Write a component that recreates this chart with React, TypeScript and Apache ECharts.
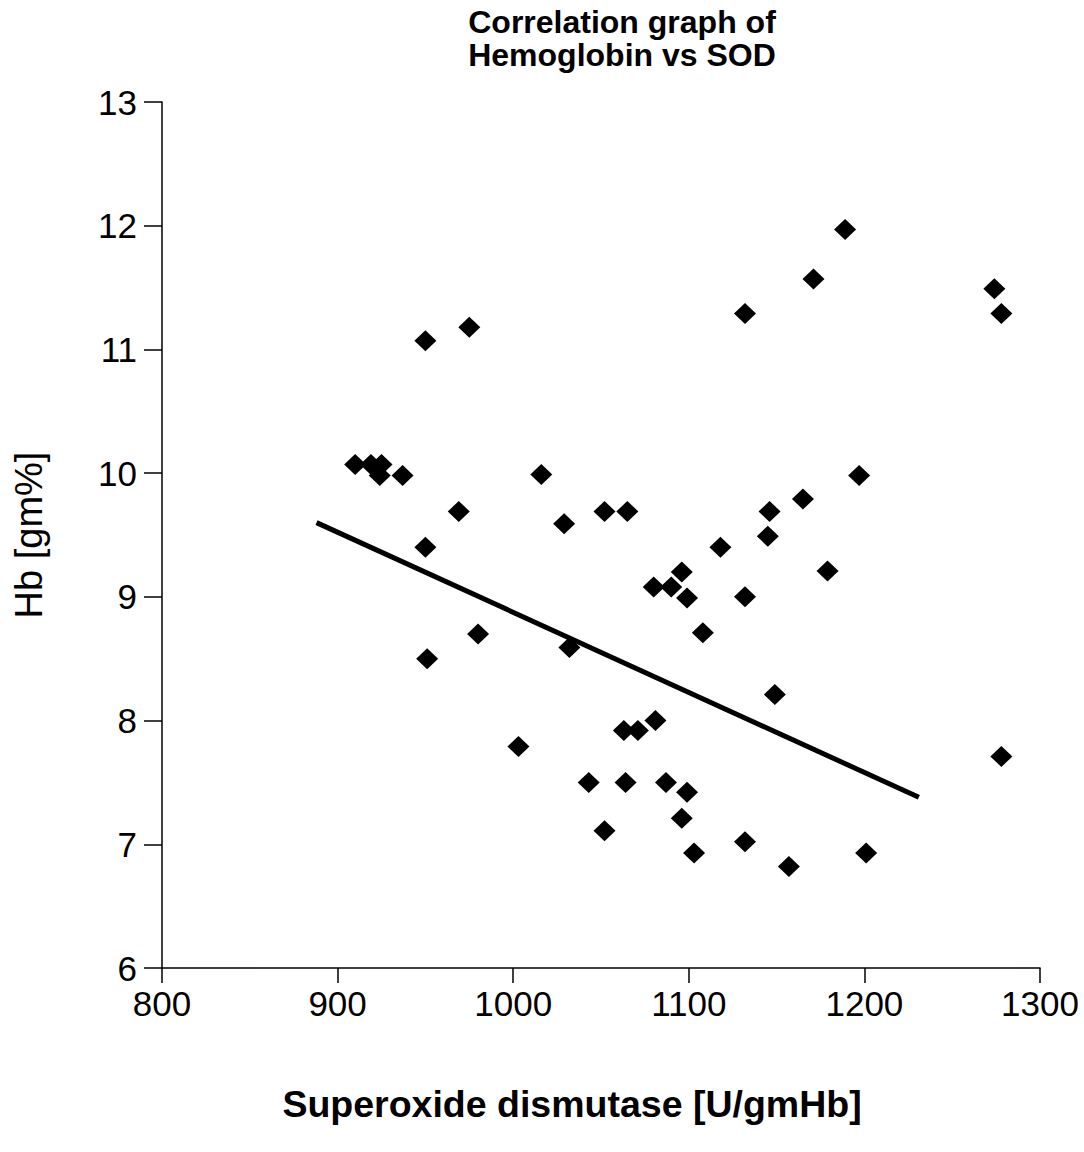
import React, { useEffect, useRef } from "react";
import * as echarts from "echarts";

const sodValues = [
  910, 919, 925, 924, 937, 950, 975, 969, 950, 951, 980, 1003, 1016, 1029, 1032,
  1043, 1052, 1052, 1065, 1063, 1071, 1081, 1064, 1080, 1090, 1096, 1099, 1087,
  1099, 1096, 1103, 1108, 1118, 1132, 1132, 1132, 1145, 1146, 1149, 1157, 1165,
  1171, 1179, 1189, 1197, 1201, 1274, 1278, 1278,
];
const hbValues = [
  10.07, 10.07, 10.07, 9.98, 9.98, 11.07, 11.18, 9.69, 9.4, 8.5, 8.7, 7.79, 9.99,
  9.59, 8.59, 7.5, 7.11, 9.69, 9.69, 7.92, 7.92, 8.0, 7.5, 9.08, 9.08, 9.2, 8.99,
  7.5, 7.42, 7.21, 6.93, 8.71, 9.4, 11.29, 9.0, 7.02, 9.49, 9.69, 8.21, 6.82, 9.79,
  11.57, 9.21, 11.97, 9.98, 6.93, 11.49, 11.29, 7.71,
];
const trendX = [888, 1231];
const trendY = [9.6, 7.38];
const xTicks = [800, 900, 1000, 1100, 1200, 1300];
const yTicks = [6, 7, 8, 9, 10, 11, 12, 13];

const titleText = "Correlation graph of\nHemoglobin vs SOD";
const xName = "Superoxide dismutase [U/gmHb]";
const yName = "Hb [gm%]";

const FONT = "Liberation Sans, Arial, sans-serif";

export default function App() {
  const ref = useRef<HTMLDivElement>(null);
  useEffect(() => {
    if (!ref.current) return;
    const chart = echarts.init(ref.current, null, { renderer: "svg" });
    const points = sodValues.map((x, i) => [x, hbValues[i]]);
    const trend = trendX.map((x, i) => [x, trendY[i]]);
    chart.setOption({
      animation: false,
      backgroundColor: "#ffffff",
      grid: { left: 162, right: 44, top: 102, bottom: 184 },
      graphic: [
        {
          type: "text",
          x: 622,
          y: 5,
          style: {
            text: titleText,
            textAlign: "center",
            textVerticalAlign: "top",
            fontFamily: FONT,
            fontWeight: "bold",
            fontSize: 32,
            lineHeight: 33,
            fill: "#000",
          },
        },
        {
          type: "text",
          x: 572,
          y: 1104,
          style: {
            text: xName,
            textAlign: "center",
            textVerticalAlign: "middle",
            fontFamily: FONT,
            fontWeight: "bold",
            fontSize: 37.5,
            fill: "#000",
          },
        },
      ],
      xAxis: {
        type: "value",
        min: xTicks[0],
        max: xTicks[xTicks.length - 1],
        interval: 100,
        splitLine: { show: false },
        axisLine: { show: true, onZero: false, lineStyle: { color: "#000", width: 1.5 } },
        axisTick: { show: true, length: 15, lineStyle: { color: "#000", width: 1.5 } },
        axisLabel: {
          color: "#000",
          fontFamily: FONT,
          fontSize: 35,
          margin: 18,
          formatter: (v: number) => String(v),
        },
      },
      yAxis: {
        type: "value",
        min: yTicks[0],
        max: yTicks[yTicks.length - 1],
        interval: 1,
        name: yName,
        nameLocation: "middle",
        nameGap: 114,
        nameRotate: 90,
        nameTextStyle: { color: "#000", fontFamily: FONT, fontSize: 38 },
        splitLine: { show: false },
        axisLine: { show: true, onZero: false, lineStyle: { color: "#000", width: 1.5 } },
        axisTick: { show: true, length: 18, lineStyle: { color: "#000", width: 1.5 } },
        axisLabel: {
          color: "#000",
          fontFamily: FONT,
          fontSize: 35,
          margin: 25,
          formatter: (v: number) => String(v),
        },
      },
      series: [
        {
          type: "scatter",
          data: points,
          symbol: "diamond",
          symbolSize: [22, 21],
          itemStyle: { color: "#000", opacity: 1 },
          z: 3,
        },
        {
          type: "line",
          data: trend,
          showSymbol: false,
          symbol: "none",
          lineStyle: { color: "#000", width: 5 },
          z: 2,
        },
      ],
    });
    return () => chart.dispose();
  }, []);
  return (
    <div
      ref={ref}
      style={{ position: "fixed", left: 0, top: 0, width: 1084, height: 1152 }}
    />
  );
}
